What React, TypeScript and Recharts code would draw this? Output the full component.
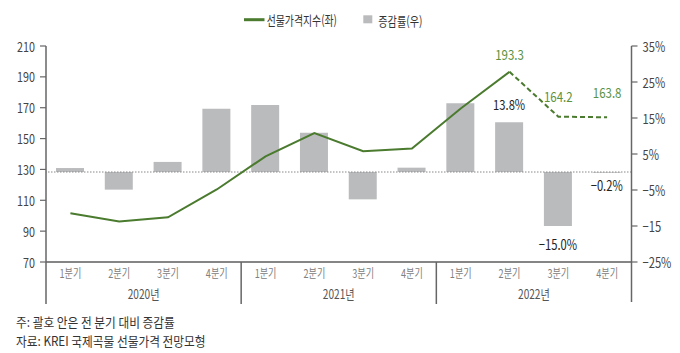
import React from 'react';
import { ComposedChart, Bar, Line, XAxis, YAxis, ReferenceLine } from 'recharts';

const FONT = "'Noto Sans CJK KR', 'Noto Sans', sans-serif";

const quarters = ['1분기', '2분기', '3분기', '4분기', '1분기', '2분기', '3분기', '4분기', '1분기', '2분기', '3분기', '4분기'];
const years = ['2020년', '2020년', '2020년', '2020년', '2021년', '2021년', '2021년', '2021년', '2022년', '2022년', '2022년', '2022년'];
const futuresIndex = [101.6, 96.2, 99.0, 117.0, 138.5, 153.6, 141.8, 143.5, 169.5, 193.3, 164.2, 163.8];
const changeRate = [1.1, -4.9, 2.8, 17.6, 18.6, 10.9, -7.6, 1.2, 19.1, 13.8, -15.0, -0.2];
const forecastStart = 9;
const indexLabels = [null, null, null, null, null, null, null, null, null, '193.3', '164.2', '163.8'];
const rateLabels = [null, null, null, null, null, null, null, null, null, '13.8%', '−15.0%', '−0.2%'];
const leftTicks = [70, 90, 110, 130, 150, 170, 190, 210];
const rightTicks = [-25, -15, -5, 5, 15, 25, 35];
const rightTickLabels = ['−25%', '−15', '−5%', '5%', '15%', '25%', '35%'];
const legendLine = '선물가격지수(좌)';
const legendBar = '증감률(우)';
const note1 = '주: 괄호 안은 전 분기 대비 증감률';
const note2 = '자료: KREI 국제곡물 선물가격 전망모형';

const data = quarters.map((q, i) => ({
  q,
  year: years[i],
  rate: changeRate[i],
  solid: i <= forecastStart ? futuresIndex[i] : null,
  dashed: i >= forecastStart ? futuresIndex[i] : null,
}));

const LINE_GREEN = '#4b7b2f';
const LABEL_GREEN = '#5b9240';
const BAR_GRAY = '#babbbd';
const AXIS_GRAY = '#666666';

function Txt({ x, y, children, size = 13, sx = 0.78, anchor = 'middle', fill = '#444' }: any) {
  return (
    <text
      transform={`translate(${x},${y}) scale(${sx},1)`}
      textAnchor={anchor}
      dominantBaseline="central"
      fontSize={size}
      fontFamily={FONT}
      fill={fill}
    >
      {children}
    </text>
  );
}

const XTick = (props: any) => {
  const { x, y, payload } = props;
  const i = props.index ?? payload?.index ?? 0;
  const off = payload?.offset ?? 0;
  const parts: any[] = [];
  parts.push(
    <Txt key="q" x={x} y={y + 11} size={12} sx={0.76} fill="#808080">
      {payload.value}
    </Txt>
  );
  if (i % 4 === 0) {
    parts.push(<line key="s" x1={x - off} x2={x - off} y1={y} y2={y + 42} stroke={AXIS_GRAY} strokeWidth={1.5} />);
  }
  if (i === quarters.length - 1) {
    parts.push(<line key="e" x1={x + off} x2={x + off} y1={y} y2={y + 40} stroke={AXIS_GRAY} strokeWidth={1.5} />);
  }
  if (i % 4 === 1) {
    parts.push(
      <Txt key="y" x={x + off} y={y + 31} size={13} sx={0.78} fill="#555">
        {years[i]}
      </Txt>
    );
  }
  return <g>{parts}</g>;
};

const LeftTick = (props: any) => (
  <Txt x={props.x} y={props.y} size={14} sx={0.77} anchor="end" fill="#444">
    {props.payload.value}
  </Txt>
);

const RightTick = (props: any) => {
  const idx = rightTicks.indexOf(props.payload.value);
  return (
    <Txt x={props.x} y={props.y} size={14} sx={0.8} anchor="start" fill="#444">
      {rightTickLabels[idx]}
    </Txt>
  );
};

const lineLabelDy: Record<number, number> = { 9: -18, 10: -21, 11: -25 };

const makeLineLabel = (from: number, to: number) => (props: any) => {
  const { x, y, index, value } = props;
  const k = `ll-${from}-${index}`;
  if (index < from || index > to || value == null || y == null || isNaN(y)) return <g key={k} />;
  const t = indexLabels[index];
  if (!t) return <g key={k} />;
  return (
    <g key={k}>
      <Txt x={x} y={y + (lineLabelDy[index] ?? -20)} size={14} sx={0.82} fill={LABEL_GREEN}>
        {t}
      </Txt>
    </g>
  );
};

const barLabelDy: Record<number, number> = { 9: -18.5, 10: 18, 11: 12.5 };

const BarLabel = (props: any) => {
  const { x, y, width, height, index } = props;
  const t = rateLabels[index];
  if (!t) return null;
  const top = Math.min(y, y + height);
  const bottom = Math.max(y, y + height);
  const v = changeRate[index];
  const cy = v >= 0 ? top + (barLabelDy[index] ?? -16) : bottom + (barLabelDy[index] ?? 16);
  return (
    <Txt x={x + width / 2} y={cy} size={14} sx={0.8} fill="#222">
      {t}
    </Txt>
  );
};

export default function App() {
  return (
    <div style={{ position: 'absolute', left: 0, top: 0, width: 680, height: 353, background: '#fff' }}>
      <ComposedChart width={680} height={353} data={data} margin={{ top: 46, right: 0, bottom: 0, left: 0 }}>
        <XAxis
          dataKey="q"
          height={91}
          interval={0}
          tickSize={0}
          tickMargin={0}
          tick={<XTick />}
          axisLine={{ stroke: '#858585', strokeWidth: 2 }}
          tickLine={false}
        />
        <YAxis
          yAxisId="left"
          width={46}
          domain={[70, 210]}
          ticks={leftTicks}
          tickSize={6}
          tickMargin={5}
          tick={<LeftTick />}
          axisLine={{ stroke: AXIS_GRAY, strokeWidth: 1.5 }}
          tickLine={{ stroke: AXIS_GRAY, strokeWidth: 1.2 }}
          allowDataOverflow
        />
        <YAxis
          yAxisId="right"
          orientation="right"
          width={48.5}
          domain={[-25, 35]}
          ticks={rightTicks}
          tickSize={6}
          tickMargin={5}
          tick={<RightTick />}
          axisLine={{ stroke: AXIS_GRAY, strokeWidth: 1.5 }}
          tickLine={{ stroke: AXIS_GRAY, strokeWidth: 1.2 }}
          allowDataOverflow
        />
        <Bar yAxisId="right" dataKey="rate" fill={BAR_GRAY} barSize={28} isAnimationActive={false} label={<BarLabel />} />
        <ReferenceLine yAxisId="right" y={0} stroke="#888" strokeDasharray="1.5 1.5" strokeWidth={1} />
        <Line
          yAxisId="left"
          dataKey="solid"
          stroke={LINE_GREEN}
          strokeWidth={2}
          dot={false}
          activeDot={false}
          isAnimationActive={false}
          label={makeLineLabel(forecastStart, forecastStart)}
        />
        <Line
          yAxisId="left"
          dataKey="dashed"
          stroke={LINE_GREEN}
          strokeWidth={2}
          strokeDasharray="5 3"
          dot={false}
          activeDot={false}
          isAnimationActive={false}
          label={makeLineLabel(forecastStart + 1, quarters.length - 1)}
        />
      </ComposedChart>
      <svg width={680} height={353} style={{ position: 'absolute', left: 0, top: 0, pointerEvents: 'none' }}>
        <line x1={244} x2={264.5} y1={19.7} y2={19.7} stroke={LINE_GREEN} strokeWidth={3} />
        <Txt x={266.7} y={19.7} size={13} sx={0.76} anchor="start" fill="#333">
          {legendLine}
        </Txt>
        <rect x={363.3} y={15.3} width={9} height={8} fill={BAR_GRAY} />
        <Txt x={378.3} y={19.7} size={13} sx={0.78} anchor="start" fill="#333">
          {legendBar}
        </Txt>
        <Txt x={16} y={321.7} size={13} sx={0.9} anchor="start" fill="#333">
          {note1}
        </Txt>
        <Txt x={16} y={340.5} size={13} sx={0.9} anchor="start" fill="#333">
          {note2}
        </Txt>
      </svg>
    </div>
  );
}
